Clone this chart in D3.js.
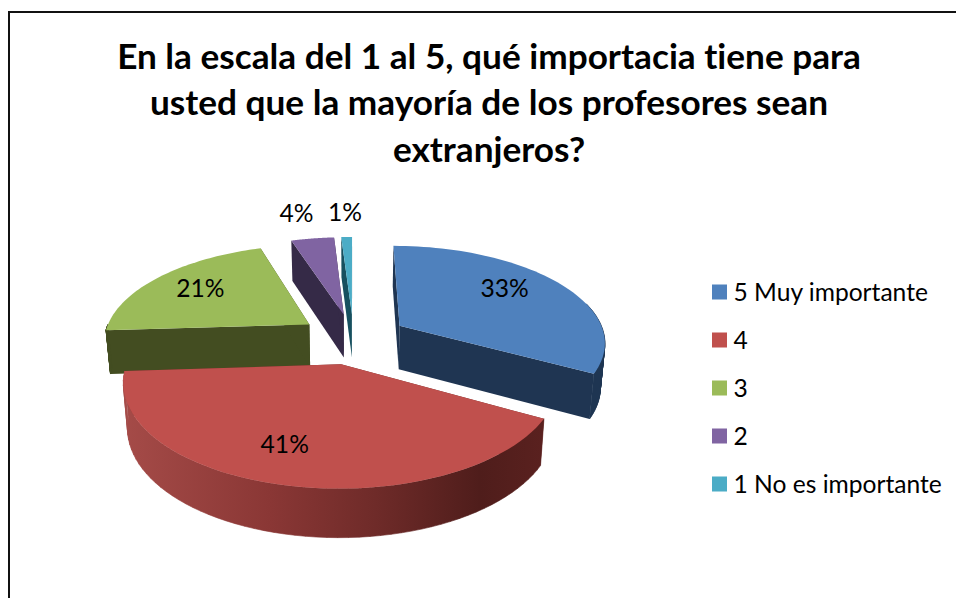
<!DOCTYPE html>
<html>
<head>
<meta charset="utf-8">
<script src="https://cdn.jsdelivr.net/npm/d3@7"></script>
<style>
html,body{margin:0;padding:0;background:#fff}
svg{display:block}
text{font-family:Lato,"Open Sans",sans-serif;fill:#000;font-variant-ligatures:none}
</style>
</head>
<body>
<svg id="chart" width="956" height="598"></svg>
<script>
const categories = ["5 Muy importante", "4", "3", "2", "1 No es importante"];
const values = [33, 41, 21, 4, 1];
const titleLines = ["En la escala del 1 al 5, qué importacia tiene para", "usted que la mayoría de los profesores sean", "extranjeros?"];
const topColors = ["#4f81bd", "#c0504d", "#9bbb59", "#8064a2", "#4bacc6"];
const wallColors = ["#1f3552", "#6e2a28", "#434d21", "#352a47", "#17505f"];

const W = 956, H = 598;
const svg = d3.select("#chart");

// frame
svg.append("path").attr("d", `M9,598V12H956`).attr("fill", "none").attr("stroke", "#111").attr("stroke-width", 2);

// title
svg.append("g").selectAll("text").data(titleLines).join("text")
  .attr("x", 489).attr("y", (d, i) => 68.5 + i * 46.5)
  .attr("text-anchor", "middle").attr("font-weight", 700).attr("font-size", 35.2).text(d => d);

// perspective model of the exploded pie
const cx = 353.5, cy = 338.5, ax = 206, by = 96, persp = 0.155, explode = 0.265, depth = 44, taper = 0.018;
const pie = d3.pie().sort(null).startAngle(0).endAngle(2 * Math.PI)(values);
function project(theta, rho, mid, z) {
  const X = explode * Math.sin(mid) + rho * Math.sin(theta);
  const Y = -explode * Math.cos(mid) - rho * Math.cos(theta);
  const s = 1 / (1 - persp * Y);
  const k = z ? 1 - taper : 1;
  return [cx + ax * X * s * k, cy + by * Y * s + (z ? depth * Math.sqrt(s) : 0)];
}
const line = d3.line();
const defs = svg.append("defs");
const grad = defs.append("linearGradient").attr("id", "redWall").attr("gradientUnits", "userSpaceOnUse")
  .attr("x1", 123).attr("x2", 543).attr("y1", 0).attr("y2", 0);
[[0, "#a54b48"], [0.35, "#8a3735"], [0.6, "#6f2b29"], [0.85, "#4f1d1b"], [1, "#5a211f"]]
  .forEach(([o, c]) => grad.append("stop").attr("offset", o).attr("stop-color", c));

const arcPts = (a0, a1, mid, z) => d3.range(0, 61).map(i => project(a0 + (a1 - a0) * i / 60, 1, mid, z));
const order = [4, 3, 2, 0, 1];
const g = svg.append("g");
order.forEach(i => {
  const p = pie[i], mid = (p.startAngle + p.endAngle) / 2;
  const wall = i === 1 ? "url(#redWall)" : wallColors[i];
  const a = p.startAngle, b = p.endAngle;
  const apex = project(0, 0, mid, 0), apexB = project(0, 0, mid, 1);
  const radial = t => [apex, project(t, 1, mid, 0), project(t, 1, mid, 1), apexB];
  g.append("path").attr("d", line(radial(a)) + "Z").attr("fill", wallColors[i]);
  g.append("path").attr("d", line(radial(b)) + "Z").attr("fill", wallColors[i]);
  const v0 = Math.max(a, Math.PI / 2 - 0.25), v1 = Math.min(b, 3 * Math.PI / 2);
  if (v1 > v0) {
    const up = arcPts(v0, v1, mid, 0), down = arcPts(v0, v1, mid, 1);
    const quads = d3.pairs(d3.range(up.length)).map(([m, n]) => [up[m], up[n], down[n], down[m]]);
    g.append("path").attr("d", quads.map(q => line(q) + "Z").join(""))
      .attr("fill", wall).attr("stroke", wall).attr("stroke-width", 0.6);
  }
  const top = [apex].concat(arcPts(a, b, mid, 0));
  g.append("path").attr("d", line(top) + "Z").attr("fill", topColors[i]);
});

// data labels
const labelRho = [0.7, 0.7, 0.745, 1.39, 1.39];
const labelNudge = [[-8, -6], [-18, 0], [5, 0], [-6, 0], [0, 0]];
svg.append("g").selectAll("text").data(pie).join("text")
  .attr("transform", (d, i) => {
    const mid = (d.startAngle + d.endAngle) / 2;
    const q = project(mid, labelRho[i], mid, 0);
    return `translate(${q[0] + labelNudge[i][0]},${q[1] + labelNudge[i][1]})`;
  })
  .attr("text-anchor", "middle").attr("dy", "0.35em").attr("font-size", 24.6)
  .text(d => d.data + "%");

// legend
const ly = d3.scalePoint().domain(categories).range([292, 484]);
const lg = svg.append("g").selectAll("g").data(categories).join("g")
  .attr("transform", d => `translate(712,${ly(d)})`);
lg.append("rect").attr("y", -7.5).attr("width", 15).attr("height", 15).attr("fill", (d, i) => topColors[i]);
lg.append("text").attr("x", 21.5).attr("dy", "0.35em").attr("font-size", 24.6).text(d => d);
</script>
</body>
</html>
